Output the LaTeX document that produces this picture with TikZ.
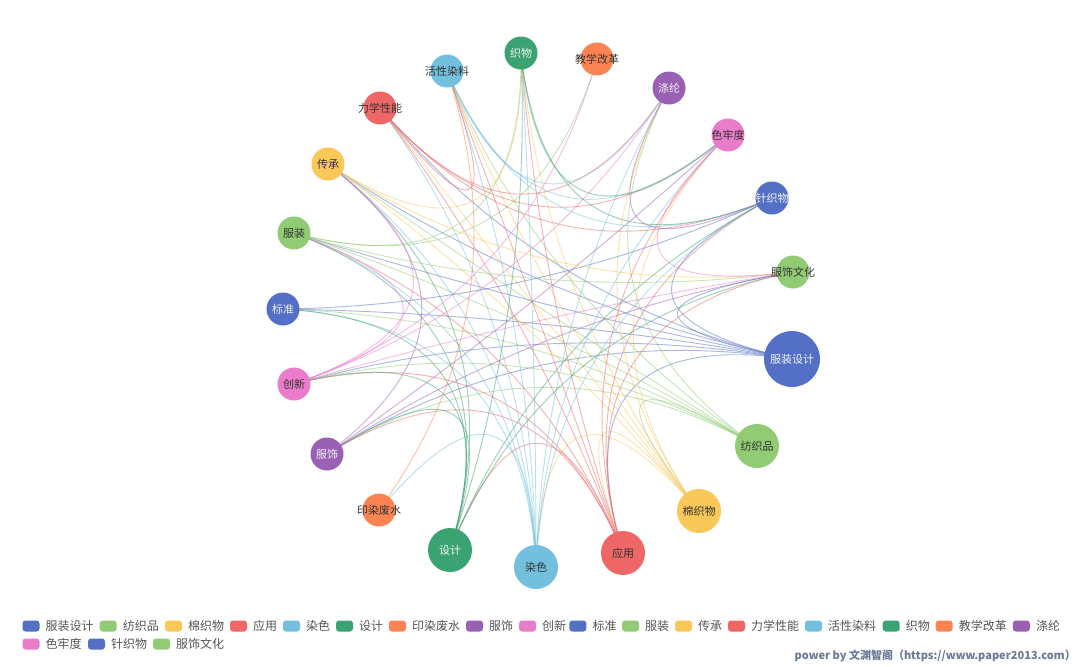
\documentclass[tikz,border=0pt]{standalone}
\usepackage{fontspec}
\setmainfont{Noto Sans CJK SC}
\usetikzlibrary{calc}
\definecolor{cBlue}{HTML}{5470C6}
\definecolor{cGreen}{HTML}{91CC75}
\definecolor{cYellow}{HTML}{FAC858}
\definecolor{cRed}{HTML}{EE6666}
\definecolor{cLBlue}{HTML}{73C0DE}
\definecolor{cDGreen}{HTML}{3BA272}
\definecolor{cOrange}{HTML}{FC8452}
\definecolor{cPurple}{HTML}{9A60B4}
\definecolor{cPink}{HTML}{EA7CCC}
\definecolor{labLight}{HTML}{F2F2F2}
\definecolor{labDark}{HTML}{333333}
\definecolor{legText}{HTML}{555555}
\definecolor{footC}{HTML}{6A7A96}
\colorlet{c0}{cBlue}\colorlet{c1}{cGreen}\colorlet{c2}{cYellow}\colorlet{c3}{cRed}
\colorlet{c4}{cLBlue}\colorlet{c5}{cDGreen}\colorlet{c6}{cOrange}\colorlet{c7}{cPurple}
\colorlet{c8}{cPink}\colorlet{c9}{cBlue}\colorlet{c10}{cGreen}\colorlet{c11}{cYellow}
\colorlet{c12}{cRed}\colorlet{c13}{cLBlue}\colorlet{c14}{cDGreen}\colorlet{c15}{cOrange}
\colorlet{c16}{cPurple}\colorlet{c17}{cPink}\colorlet{c18}{cBlue}\colorlet{c19}{cGreen}
\pgfdeclarelayer{back}\pgfdeclarelayer{bg}\pgfsetlayers{back,bg,main}
\tikzset{
  kw/.style={circle, fill=#1, inner sep=0pt},
  bigkw/.style={minimum size=56},
  midkw/.style={minimum size=44},
  smlkw/.style={minimum size=33},
  lbl/.style={inner sep=0pt, font=\fontsize{11}{13}\selectfont},
  lt/.style={lbl, text=labLight},
  dk/.style={lbl, text=labDark},
  edge/.style={line width=0.9pt, draw opacity=0.5},
  legicon/.style={fill=#1, rounded corners=3pt, minimum width=17pt, minimum height=11pt, inner sep=0pt},
  legtxt/.style={anchor=west, text=legText, inner sep=0pt, font=\fontsize{12}{14}\selectfont},
}
\newcommand{\kedge}[2]{%
  \coordinate (m) at ($(n#1)!0.5!(n#2)$);
  \coordinate (q) at ($(O)!0.1!(m)$);
  \draw[edge, draw=c#1] (n#1.center) .. controls ($(n#1)!0.6667!(q)$) and ($(n#2)!0.6667!(q)$) .. (n#2.center);}
\newcommand{\kedges}[2]{\foreach \t in {#2}{\kedge{#1}{\t}}}
\newcommand{\legitem}[4]{%
  \node[legicon=#3] (li#4) at (#1+8.5,#2) {};
  \node[legtxt] (lt#4) at (#1+23,#2) {#4};}
\begin{document}
\begin{tikzpicture}[x=1pt,y=-1pt]
\useasboundingbox (0,0) rectangle (1080,667);
\begin{pgfonlayer}{back}
\fill[white] (0,0) rectangle (1080,667);
\end{pgfonlayer}
\coordinate (O) at (537,311);
% nodes
\node[kw=cBlue,bigkw]   (n0)  at (792,359) {};
\node[kw=cGreen,midkw]  (n1)  at (757,446) {};
\node[kw=cYellow,midkw] (n2)  at (699,511) {};
\node[kw=cRed,midkw]    (n3)  at (623,553) {};
\node[kw=cLBlue,midkw]  (n4)  at (536,567) {};
\node[kw=cDGreen,midkw] (n5)  at (450,550) {};
\node[kw=cOrange,smlkw] (n6)  at (379,510) {};
\node[kw=cPurple,smlkw] (n7)  at (327,454) {};
\node[kw=cPink,smlkw]   (n8)  at (294,384) {};
\node[kw=cBlue,smlkw]   (n9)  at (283,309) {};
\node[kw=cGreen,smlkw]  (n10) at (294,233) {};
\node[kw=cYellow,smlkw] (n11) at (328,164) {};
\node[kw=cRed,smlkw]    (n12) at (380,108) {};
\node[kw=cLBlue,smlkw]  (n13) at (447,71) {};
\node[kw=cDGreen,smlkw] (n14) at (521,53) {};
\node[kw=cOrange,smlkw] (n15) at (597,59) {};
\node[kw=cPurple,smlkw] (n16) at (669,88) {};
\node[kw=cPink,smlkw]   (n17) at (728,135) {};
\node[kw=cBlue,smlkw]   (n18) at (772,198) {};
\node[kw=cGreen,smlkw]  (n19) at (793,272) {};
% labels
\node[lt] (l0)  at (n0)  {服装设计};
\node[dk] (l1)  at (n1)  {纺织品};
\node[dk] (l2)  at (n2)  {棉织物};
\node[dk] (l3)  at (n3)  {应用};
\node[dk] (l4)  at (n4)  {染色};
\node[lt] (l5)  at (n5)  {设计};
\node[dk] (l6)  at (n6)  {印染废水};
\node[lt] (l7)  at (n7)  {服饰};
\node[dk] (l8)  at (n8)  {创新};
\node[lt] (l9)  at (n9)  {标准};
\node[dk] (l10) at (n10) {服装};
\node[dk] (l11) at (n11) {传承};
\node[dk] (l12) at (n12) {力学性能};
\node[dk] (l13) at (n13) {活性染料};
\node[lt] (l14) at (n14) {织物};
\node[dk] (l15) at (n15) {教学改革};
\node[lt] (l16) at (n16) {涤纶};
\node[dk] (l17) at (n17) {色牢度};
\node[lt] (l18) at (n18) {针织物};
\node[dk] (l19) at (n19) {服饰文化};
% edges
\begin{pgfonlayer}{bg}
\kedges{0}{3,7,8,9,10,11,12,18,19}
\kedges{1}{2,7,8,9,10,11,13,16}
\kedges{2}{3,4,11,12,13,14,16,17}
\kedges{3}{5,7,8,10,12,13,14,17,18,19}
\kedges{4}{6,9,10,11,12,13,14,16,17,18}
\kedges{5}{7,8,9,10,11,14,18,19}
\kedges{6}{13}
\kedges{7}{11,17,19}
\kedges{8}{10,11,15,16,19}
\kedges{9}{18}
\kedges{10}{14,15,19}
\kedges{11}{14,19}
\kedges{12}{13,16,17,18}
\kedges{13}{16,17,18}
\kedges{14}{17,18}
\kedges{16}{18}
\kedges{17}{19}
\end{pgfonlayer}
% legend row 1
\legitem{22.5}{626}{cBlue}{服装设计}
\legitem{99.7}{626}{cGreen}{纺织品}
\legitem{165}{626}{cYellow}{棉织物}
\legitem{230}{626}{cRed}{应用}
\legitem{283}{626}{cLBlue}{染色}
\legitem{336}{626}{cDGreen}{设计}
\legitem{389}{626}{cOrange}{印染废水}
\legitem{466}{626}{cPurple}{服饰}
\legitem{519}{626}{cPink}{创新}
\legitem{569.4}{626}{cBlue}{标准}
\legitem{622}{626}{cGreen}{服装}
\legitem{675}{626}{cYellow}{传承}
\legitem{728}{626}{cRed}{力学性能}
\legitem{805}{626}{cLBlue}{活性染料}
\legitem{882.7}{626}{cDGreen}{织物}
\legitem{935.6}{626}{cOrange}{教学改革}
\legitem{1012.8}{626}{cPurple}{涤纶}
% legend row 2
\legitem{22.5}{644}{cPink}{色牢度}
\legitem{88}{644}{cBlue}{针织物}
\legitem{153}{644}{cGreen}{服饰文化}
% footer
\node[anchor=east, inner sep=0pt, text=footC, font=\bfseries\fontsize{11}{13}\selectfont] (foot) at (1076,656) {power by 文渊智阁（https://www.paper2013.com）};
\end{tikzpicture}
\end{document}
